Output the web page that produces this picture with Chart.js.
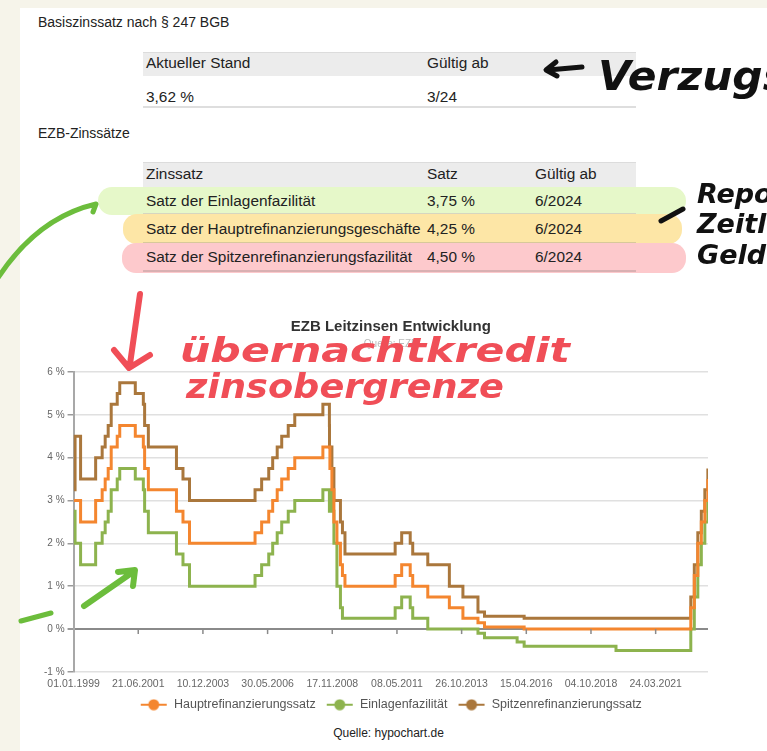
<!DOCTYPE html>
<html lang="de">
<head>
<meta charset="utf-8">
<script src="https://cdn.jsdelivr.net/npm/chart.js@4"></script>
<style>
  html, body { margin: 0; padding: 0; }
  body {
    width: 767px; height: 751px; overflow: hidden; position: relative;
    background: #f6f4ea; font-family: "Liberation Sans", Arial, sans-serif; color: #222;
  }
  .page { position: absolute; left: 20px; top: 8px; right: 0; bottom: 0; background: #fff; }
  .abs { position: absolute; }
  .txt { font-size: 14px; line-height: 16px; white-space: nowrap; }
  .cell { font-size: 15.4px; line-height: 18px; white-space: nowrap; }
  .band { background: #ececec; border-top: 1px solid #dcdcdc; }
  .rule { height: 2px; background: #dedede; }
  .hl { border-radius: 14px; }
  #chartBox { position: absolute; left: 0; top: 300px; width: 767px; height: 421px; }
  #source { position: absolute; left: 0; width: 777px; top: 726px; text-align: center; font-size: 12px; color: #222; }
  svg.ink { position: absolute; left: 0; top: 0; pointer-events: none; }
</style>
</head>
<body>
<div class="page"></div>

<!-- Basiszinssatz -->
<div class="abs txt" style="left:38px; top:14px;">Basiszinssatz nach § 247 BGB</div>
<div class="abs band" style="left:143px; top:52px; width:493px; height:23px;"></div>
<div class="abs cell" style="left:146px; top:54px;">Aktueller Stand</div>
<div class="abs cell" style="left:427px; top:54px;">Gültig ab</div>
<div class="abs cell" style="left:146px; top:88px;">3,62 %</div>
<div class="abs cell" style="left:427px; top:88px;">3/24</div>
<div class="abs rule" style="left:143px; top:106px; width:493px;"></div>

<!-- EZB-Zinssätze -->
<div class="abs txt" style="left:38px; top:125px;">EZB-Zinssätze</div>
<div class="abs band" style="left:143px; top:162px; width:493px; height:24px;"></div>
<div class="abs hl" style="left:98px; top:187px; width:588px; height:28px; background:#e6f8c9;"></div>
<div class="abs hl" style="left:123px; top:214px; width:559px; height:30px; background:#fde6a6;"></div>
<div class="abs hl" style="left:122px; top:243px; width:564px; height:30px; background:#fdc9cc;"></div>
<div class="abs rule" style="left:143px; top:213px; width:493px; height:1px; background:#d6d6c0;"></div>
<div class="abs rule" style="left:143px; top:242px; width:493px; height:1px; background:#d8c89a;"></div>
<div class="abs rule" style="left:143px; top:270px; width:493px; height:2px; background:#d9b0b2;"></div>
<div class="abs cell" style="left:146px; top:165px;">Zinssatz</div>
<div class="abs cell" style="left:427px; top:165px;">Satz</div>
<div class="abs cell" style="left:535px; top:165px;">Gültig ab</div>
<div class="abs cell" style="left:146px; top:192px;">Satz der Einlagenfazilität</div>
<div class="abs cell" style="left:427px; top:192px;">3,75 %</div>
<div class="abs cell" style="left:535px; top:192px;">6/2024</div>
<div class="abs cell" style="left:146px; top:220px;">Satz der Hauptrefinanzierungsgeschäfte</div>
<div class="abs cell" style="left:427px; top:220px;">4,25 %</div>
<div class="abs cell" style="left:535px; top:220px;">6/2024</div>
<div class="abs cell" style="left:146px; top:248px;">Satz der Spitzenrefinanzierungsfazilität</div>
<div class="abs cell" style="left:427px; top:248px;">4,50 %</div>
<div class="abs cell" style="left:535px; top:248px;">6/2024</div>

<div id="chartBox"><canvas id="rateChart"></canvas></div>
<div id="source">Quelle: hypochart.de</div>

<!-- handwritten notes -->
<svg class="ink" width="767" height="751" viewBox="0 0 767 751">
  <g fill="none" stroke-linecap="round" stroke-linejoin="round">
    <path d="M548 70 L582 67 M556 62 L546 70 L557 76" stroke="#111" stroke-width="5"/>
    <path d="M661 221 L683 209" stroke="#111" stroke-width="5"/>
    <path d="M-6 284 Q35 218 96 204 L93 212" stroke="#6cbd3c" stroke-width="5"/>
    <path d="M84 606 L133 572 M118 572 L135 570 L133 586" stroke="#6cbd3c" stroke-width="6"/>
    <path d="M21 621 L51 613" stroke="#6cbd3c" stroke-width="5"/>
    <path d="M140 294 L130 364 M114 350 L129 368 L150 355" stroke="#f04e57" stroke-width="6"/>
  </g>
  <g font-family="DejaVu Sans" font-weight="bold" font-style="italic">
    <text x="598" y="90" font-size="40" fill="#111" textLength="190" lengthAdjust="spacingAndGlyphs">Verzugs</text>
    <text x="697" y="203" font-size="27" fill="#111">Repo</text>
    <text x="697" y="233" font-size="27" fill="#111">Zeitl.</text>
    <text x="697" y="264" font-size="27" fill="#111">Geld</text>
    <text x="180" y="362" font-size="34" fill="#f04e57" textLength="390" lengthAdjust="spacingAndGlyphs">übernachtkredit</text>
    <text x="186" y="398" font-size="34" fill="#f04e57" textLength="318" lengthAdjust="spacingAndGlyphs">zinsobergrenze</text>
  </g>
</svg>

<script>
// ECB rate changes (date of change, new rate in %)
const changeDates = [
  '1999-01-04', '1999-01-22', '1999-04-09', '1999-11-05', '2000-02-04', '2000-03-17',
  '2000-04-28', '2000-06-09', '2000-09-01', '2000-10-06', '2001-05-11', '2001-08-31',
  '2001-09-18', '2001-11-09', '2002-12-06', '2003-03-07', '2003-06-06', '2005-12-06',
  '2006-03-08', '2006-06-15', '2006-08-09', '2006-10-11', '2006-12-13', '2007-03-14',
  '2007-06-13', '2008-07-09', '2008-10-08', '2008-10-09', '2008-10-15', '2008-11-12',
  '2008-12-10', '2009-01-21', '2009-03-11', '2009-04-08', '2009-05-13', '2011-04-13',
  '2011-07-13', '2011-11-09', '2011-12-14', '2012-07-11', '2013-05-08', '2013-11-13',
  '2014-06-11', '2014-09-10', '2015-12-09', '2016-03-16', '2019-09-18', '2022-07-27',
  '2022-09-14', '2022-11-02', '2022-12-21', '2023-02-08', '2023-03-22'
];
const hauptrefi = [
  3.00, 3.00, 2.50, 3.00, 3.25, 3.50,
  3.75, 4.25, 4.50, 4.75, 4.50, 4.25,
  3.75, 3.25, 2.75, 2.50, 2.00, 2.25,
  2.50, 2.75, 3.00, 3.25, 3.50, 3.75,
  4.00, 4.25, 4.25, 4.25, 3.75, 3.25,
  2.50, 2.00, 1.50, 1.25, 1.00, 1.25,
  1.50, 1.25, 1.00, 0.75, 0.50, 0.25,
  0.15, 0.05, 0.05, 0.00, 0.00, 0.50,
  1.25, 2.00, 2.50, 3.00, 3.50
];
const einlage = [
  2.75, 2.00, 1.50, 2.00, 2.25, 2.50,
  2.75, 3.25, 3.50, 3.75, 3.50, 3.25,
  2.75, 2.25, 1.75, 1.50, 1.00, 1.25,
  1.50, 1.75, 2.00, 2.25, 2.50, 2.75,
  3.00, 3.25, 2.75, 3.25, 3.25, 2.75,
  2.00, 1.00, 0.50, 0.25, 0.25, 0.50,
  0.75, 0.50, 0.25, 0.00, 0.00, 0.00,
  -0.10, -0.20, -0.30, -0.40, -0.50, 0.00,
  0.75, 1.50, 2.00, 2.50, 3.00
];
const spitzen = [
  3.25, 4.50, 3.50, 4.00, 4.25, 4.50,
  4.75, 5.25, 5.50, 5.75, 5.50, 5.25,
  4.75, 4.25, 3.75, 3.50, 3.00, 3.25,
  3.50, 3.75, 4.00, 4.25, 4.50, 4.75,
  5.00, 5.25, 4.75, 4.25, 4.25, 3.75,
  3.00, 3.00, 2.50, 2.25, 1.75, 2.00,
  2.25, 2.00, 1.75, 1.50, 1.00, 0.75,
  0.40, 0.30, 0.30, 0.25, 0.25, 0.75,
  1.50, 2.25, 2.75, 3.25, 3.75
];
const seriesNames = ['Hauptrefinanzierungssatz', 'Einlagenfazilität', 'Spitzenrefinanzierungssatz'];
const axisStart = '1999-01-01';
const axisEnd = '2023-03-24';
// x tick labels every 902 days: 01.01.1999, 21.06.2001, ... 24.03.2021
const xTickCount = 10;
const tickStepDays = 902;
const yTicks = [-1, 0, 1, 2, 3, 4, 5, 6];

const DAY = 86400000;
function dayIndex(s) {
  const p = s.split('-').map(Number);
  return (Date.UTC(p[0], p[1] - 1, p[2]) - Date.UTC(1999, 0, 1)) / DAY;
}
function formatDay(v) {
  const d = new Date(Date.UTC(1999, 0, 1) + v * DAY);
  const pad = n => String(n).padStart(2, '0');
  return pad(d.getUTCDate()) + '.' + pad(d.getUTCMonth() + 1) + '.' + d.getUTCFullYear();
}
function toPoints(values) {
  return changeDates.map((d, i) => ({ x: dayIndex(d), y: values[i] }));
}
// legend marker: short line with a dot
function marker(color) {
  const c = document.createElement('canvas');
  c.width = 28; c.height = 12;
  const g = c.getContext('2d');
  g.strokeStyle = color; g.lineWidth = 2;
  g.beginPath(); g.moveTo(1, 6); g.lineTo(27, 6); g.stroke();
  g.fillStyle = color;
  g.beginPath(); g.arc(14, 6, 5.5, 0, Math.PI * 2); g.fill();
  return c;
}

const colors = ['#f4862f', '#8db34e', '#aa773c'];

// small tick marks on the 0 % line
const zeroTicks = {
  id: 'zeroTicks',
  afterDatasetsDraw(chart) {
    const x = chart.scales.x, y = chart.scales.y;
    const y0 = y.getPixelForValue(0);
    const ctx = chart.ctx;
    ctx.save();
    ctx.strokeStyle = '#8a8a8a';
    ctx.lineWidth = 1.5;
    x.ticks.forEach((t, i) => {
      if (i === 0) return;
      const px = x.getPixelForTick(i);
      ctx.beginPath(); ctx.moveTo(px, y0); ctx.lineTo(px, y0 + 5); ctx.stroke();
    });
    ctx.restore();
  }
};

const ctx = document.getElementById('rateChart').getContext('2d');
new Chart(ctx, {
  type: 'line',
  data: {
    datasets: [hauptrefi, einlage, spitzen].map((vals, i) => ({
      label: seriesNames[i],
      data: toPoints(vals),
      borderColor: colors[i],
      backgroundColor: colors[i],
      borderWidth: 3,
      stepped: true,
      pointRadius: 0,
      pointHoverRadius: 0,
      pointStyle: marker(colors[i]),
      fill: false
    }))
  },
  options: {
    responsive: true,
    maintainAspectRatio: false,
    animation: false,
    layout: { padding: { left: 41, right: 59, top: 0, bottom: 0 } },
    plugins: {
      title: {
        display: true,
        fullSize: false,
        text: 'EZB Leitzinsen Entwicklung',
        color: '#333',
        font: { family: 'Liberation Sans', size: 15, weight: 'bold' },
        padding: { top: 18, bottom: 2 }
      },
      subtitle: {
        display: true,
        fullSize: false,
        text: 'Quelle: EZB',
        color: '#bbb',
        font: { family: 'Liberation Sans', size: 10 },
        padding: { bottom: 22 }
      },
      legend: {
        position: 'bottom',
        fullSize: false,
        labels: {
          usePointStyle: true,
          pointStyleWidth: 28,
          color: '#555',
          font: { family: 'Liberation Sans', size: 12.5 },
          padding: 10
        }
      },
      tooltip: { enabled: false }
    },
    scales: {
      x: {
        type: 'linear',
        min: dayIndex(axisStart),
        max: dayIndex(axisEnd),
        afterBuildTicks(scale) {
          scale.ticks = Array.from({ length: xTickCount }, (_, k) => ({ value: k * tickStepDays }));
        },
        afterFit(scale) {
          scale.height -= 8;
        },
        ticks: {
          autoSkip: false,
          maxRotation: 0,
          padding: 6,
          color: '#666',
          font: { family: 'Liberation Sans', size: 10.5 },
          callback: v => formatDay(v)
        },
        grid: { display: false, drawTicks: false },
        border: { display: false }
      },
      y: {
        min: yTicks[0],
        max: yTicks[yTicks.length - 1],
        afterBuildTicks(scale) {
          scale.ticks = yTicks.map(v => ({ value: v }));
        },
        ticks: {
          padding: 3,
          color: '#666',
          font: { family: 'Liberation Sans', size: 10 },
          callback: v => v + ' %'
        },
        grid: {
          color: c => (c.tick && c.tick.value === 0 ? '#8a8a8a' : '#e0e0e0'),
          lineWidth: c => (c.tick && c.tick.value === 0 ? 2 : 1.5),
          tickColor: '#9a9a9a',
          tickLength: 6
        },
        border: { color: '#a8a8a8', width: 2 }
      }
    }
  },
  plugins: [zeroTicks]
});
</script>
</body>
</html>
